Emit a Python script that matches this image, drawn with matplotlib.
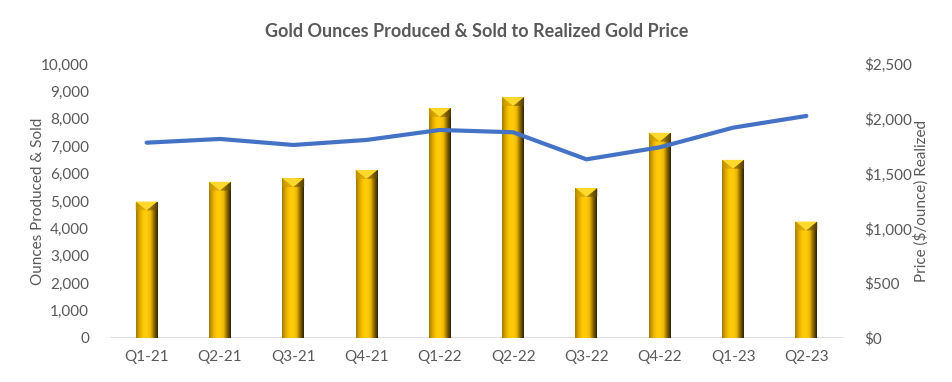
import numpy as np
import matplotlib
matplotlib.use('Agg')
import matplotlib.pyplot as plt
from matplotlib.colors import LinearSegmentedColormap
from matplotlib.patches import Polygon
from matplotlib.ticker import FuncFormatter

quarters = ['Q1-21', 'Q2-21', 'Q3-21', 'Q4-21', 'Q1-22', 'Q2-22', 'Q3-22', 'Q4-22', 'Q1-23', 'Q2-23']
ounces = [4980, 5700, 5830, 6130, 8390, 8790, 5470, 7490, 6500, 4250]
price = [1782, 1816, 1761, 1807, 1898, 1877, 1630, 1740, 1919, 2026]

grey = '#595959'
plt.rcParams['font.family'] = ['Lato', 'DejaVu Sans']

fig = plt.figure(figsize=(9.53, 3.82), dpi=100)
ax = fig.add_axes([0.1154, 0.1152, 0.7692, 0.7173])
ax2 = ax.twinx()

x = np.arange(len(quarters))
w = 0.3
gold = LinearSegmentedColormap.from_list(
    'gold', ['#a07c00', '#e0aa00', '#ffc800', '#ffcc10', '#f0b800', '#8a6800', '#2e2200'])
grad = np.linspace(0, 1, 64).reshape(1, -1)

ax.set_xlim(-0.5, len(quarters) - 0.5)
ax.set_ylim(0, 10000)
bevel = 320
for xi, v in zip(x, ounces):
    im = ax.imshow(grad, cmap=gold, aspect='auto', extent=(xi - w / 2, xi + w / 2, 0, v), zorder=2)
    bar = plt.Rectangle((xi - w / 2, 0), w, v, transform=ax.transData, fc='none', ec='none')
    ax.add_patch(bar)
    im.set_clip_path(bar)
    # top bevel
    ax.add_patch(Polygon([(xi - w / 2, v), (xi + w / 2, v), (xi, v - bevel)],
                         closed=True, fc='#ffd92e', ec='none', zorder=3))
    ax.add_patch(Polygon([(xi - w / 2, v), (xi, v - bevel), (xi - w / 2, v - bevel)],
                         closed=True, fc='#c99a00', ec='none', zorder=3, alpha=0.6))
    ax.add_patch(Polygon([(xi + w / 2, v), (xi, v - bevel), (xi + w / 2, v - bevel)],
                         closed=True, fc='#6b5000', ec='none', zorder=3, alpha=0.6))

ax2.plot(x, price, color='#4472C4', lw=3, zorder=5, solid_capstyle='round')
ax2.set_ylim(0, 2500)
ax2.set_xlim(-0.5, len(quarters) - 0.5)

ax.set_yticks(np.arange(0, 10001, 1000))
ax.yaxis.set_major_formatter(FuncFormatter(lambda v, p: f'{int(v):,}'))
ax2.set_yticks(np.arange(0, 2501, 500))
ax2.yaxis.set_major_formatter(FuncFormatter(lambda v, p: f'${int(v):,}'))
ax.set_xticks(x)
ax.set_xticklabels(quarters)

for a in (ax, ax2):
    for s in a.spines.values():
        s.set_visible(False)
    a.tick_params(length=0, colors=grey, labelsize=11)
ax.tick_params(axis='y', pad=15)
ax2.tick_params(axis='y', pad=15)
ax.tick_params(axis='x', pad=9)
ax.axhline(0, color='#d9d9d9', lw=1.2, zorder=1)

ax.set_ylabel('Ounces Produced & Sold', color=grey, fontsize=11, labelpad=-3)
ax2.set_ylabel('Price ($/ounce) Realized', color=grey, fontsize=11, labelpad=1)
fig.suptitle('Gold Ounces Produced & Sold to Realized Gold Price', color=grey,
             fontsize=13, fontweight='bold', x=0.5, y=0.94)

fig.savefig('out.png', dpi=100, facecolor='white')
